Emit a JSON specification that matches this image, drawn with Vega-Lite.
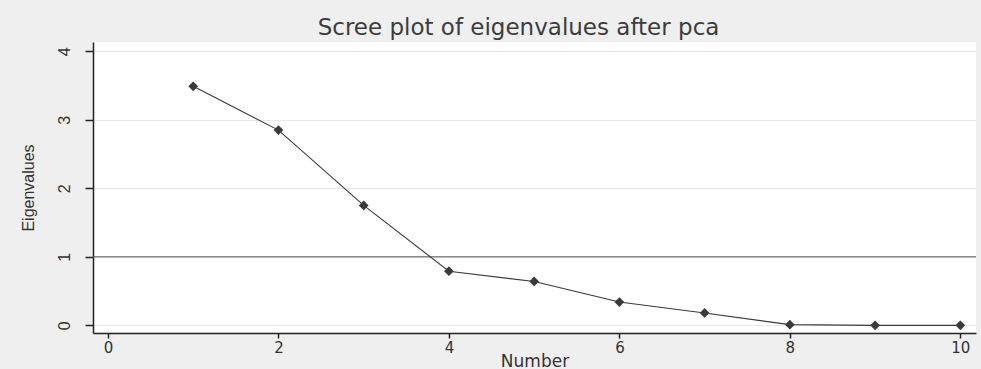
{
  "$schema": "https://vega.github.io/schema/vega-lite/v6.json",
  "autosize": {"type": "none"},
  "width": 883,
  "height": 291,
  "padding": {"left": 93, "top": 42, "right": 5, "bottom": 36},
  "background": "#efefef",
  "config": {
    "view": {"fill": "#ffffff", "stroke": null},
    "font": "Liberation Sans"
  },
  "title": {
    "text": "Scree plot of eigenvalues after pca",
    "font": "DejaVu Sans",
    "fontSize": 23,
    "fontWeight": "normal",
    "color": "#3c3c3c",
    "anchor": "middle",
    "baseline": "bottom",
    "offset": 4,
    "dx": -16,
    "dy": 25
  },
  "datasets": {
    "eig": [
      {"Number": 1, "Eigenvalue": 3.49},
      {"Number": 2, "Eigenvalue": 2.85},
      {"Number": 3, "Eigenvalue": 1.75},
      {"Number": 4, "Eigenvalue": 0.79},
      {"Number": 5, "Eigenvalue": 0.64},
      {"Number": 6, "Eigenvalue": 0.34},
      {"Number": 7, "Eigenvalue": 0.18},
      {"Number": 8, "Eigenvalue": 0.01},
      {"Number": 9, "Eigenvalue": 0.0},
      {"Number": 10, "Eigenvalue": 0.0}
    ],
    "ref": [{"y": 1}]
  },
  "layer": [
    {
      "data": {"name": "ref"},
      "mark": {"type": "rule", "color": "#555555", "strokeWidth": 1},
      "encoding": {
        "y": {"field": "y", "type": "quantitative", "scale": {"domain": [-0.112, 4.136], "nice": false, "zero": false}}
      }
    },
    {
      "data": {"name": "eig"},
      "mark": {"type": "line", "color": "#3a3a3a", "strokeWidth": 1.1},
      "encoding": {
        "x": {
          "field": "Number",
          "type": "quantitative",
          "scale": {"domain": [-0.176, 10.184], "nice": false, "zero": false},
          "axis": {
            "title": "Number",
            "values": [0, 2, 4, 6, 8, 10],
            "format": "d",
            "grid": false,
            "domainColor": "#222222",
            "domainWidth": 1.5,
            "tickColor": "#222222",
            "tickSize": 5,
            "tickWidth": 1.5,
            "labelFont": "DejaVu Sans",
            "labelFontSize": 15,
            "labelColor": "#333333",
            "labelPadding": 2,
            "titleFont": "DejaVu Sans",
            "titleFontSize": 17,
            "titleFontWeight": "normal",
            "titleColor": "#333333",
            "titleBaseline": "alphabetic",
            "titleY": 33
          }
        },
        "y": {
          "field": "Eigenvalue",
          "type": "quantitative",
          "scale": {"domain": [-0.112, 4.136], "nice": false, "zero": false},
          "axis": {
            "title": "Eigenvalues",
            "values": [0, 1, 2, 3, 4],
            "format": "d",
            "grid": true,
            "gridColor": "#e9e9e9",
            "gridWidth": 1,
            "domainColor": "#222222",
            "domainWidth": 1.5,
            "tickColor": "#222222",
            "tickSize": 8,
            "tickWidth": 1.5,
            "labelAngle": 270,
            "labelAlign": "center",
            "labelBaseline": "bottom",
            "labelFont": "Liberation Sans",
            "labelFontSize": 16,
            "labelColor": "#333333",
            "labelPadding": 13,
            "titleFont": "Liberation Sans",
            "titleFontSize": 16,
            "titleFontWeight": "normal",
            "titleColor": "#333333",
            "titlePadding": 20
          }
        }
      }
    },
    {
      "data": {"name": "eig"},
      "mark": {"type": "point", "shape": "diamond", "filled": true, "color": "#3a3a3a", "size": 95, "opacity": 1},
      "encoding": {
        "x": {"field": "Number", "type": "quantitative"},
        "y": {"field": "Eigenvalue", "type": "quantitative"}
      }
    }
  ]
}
